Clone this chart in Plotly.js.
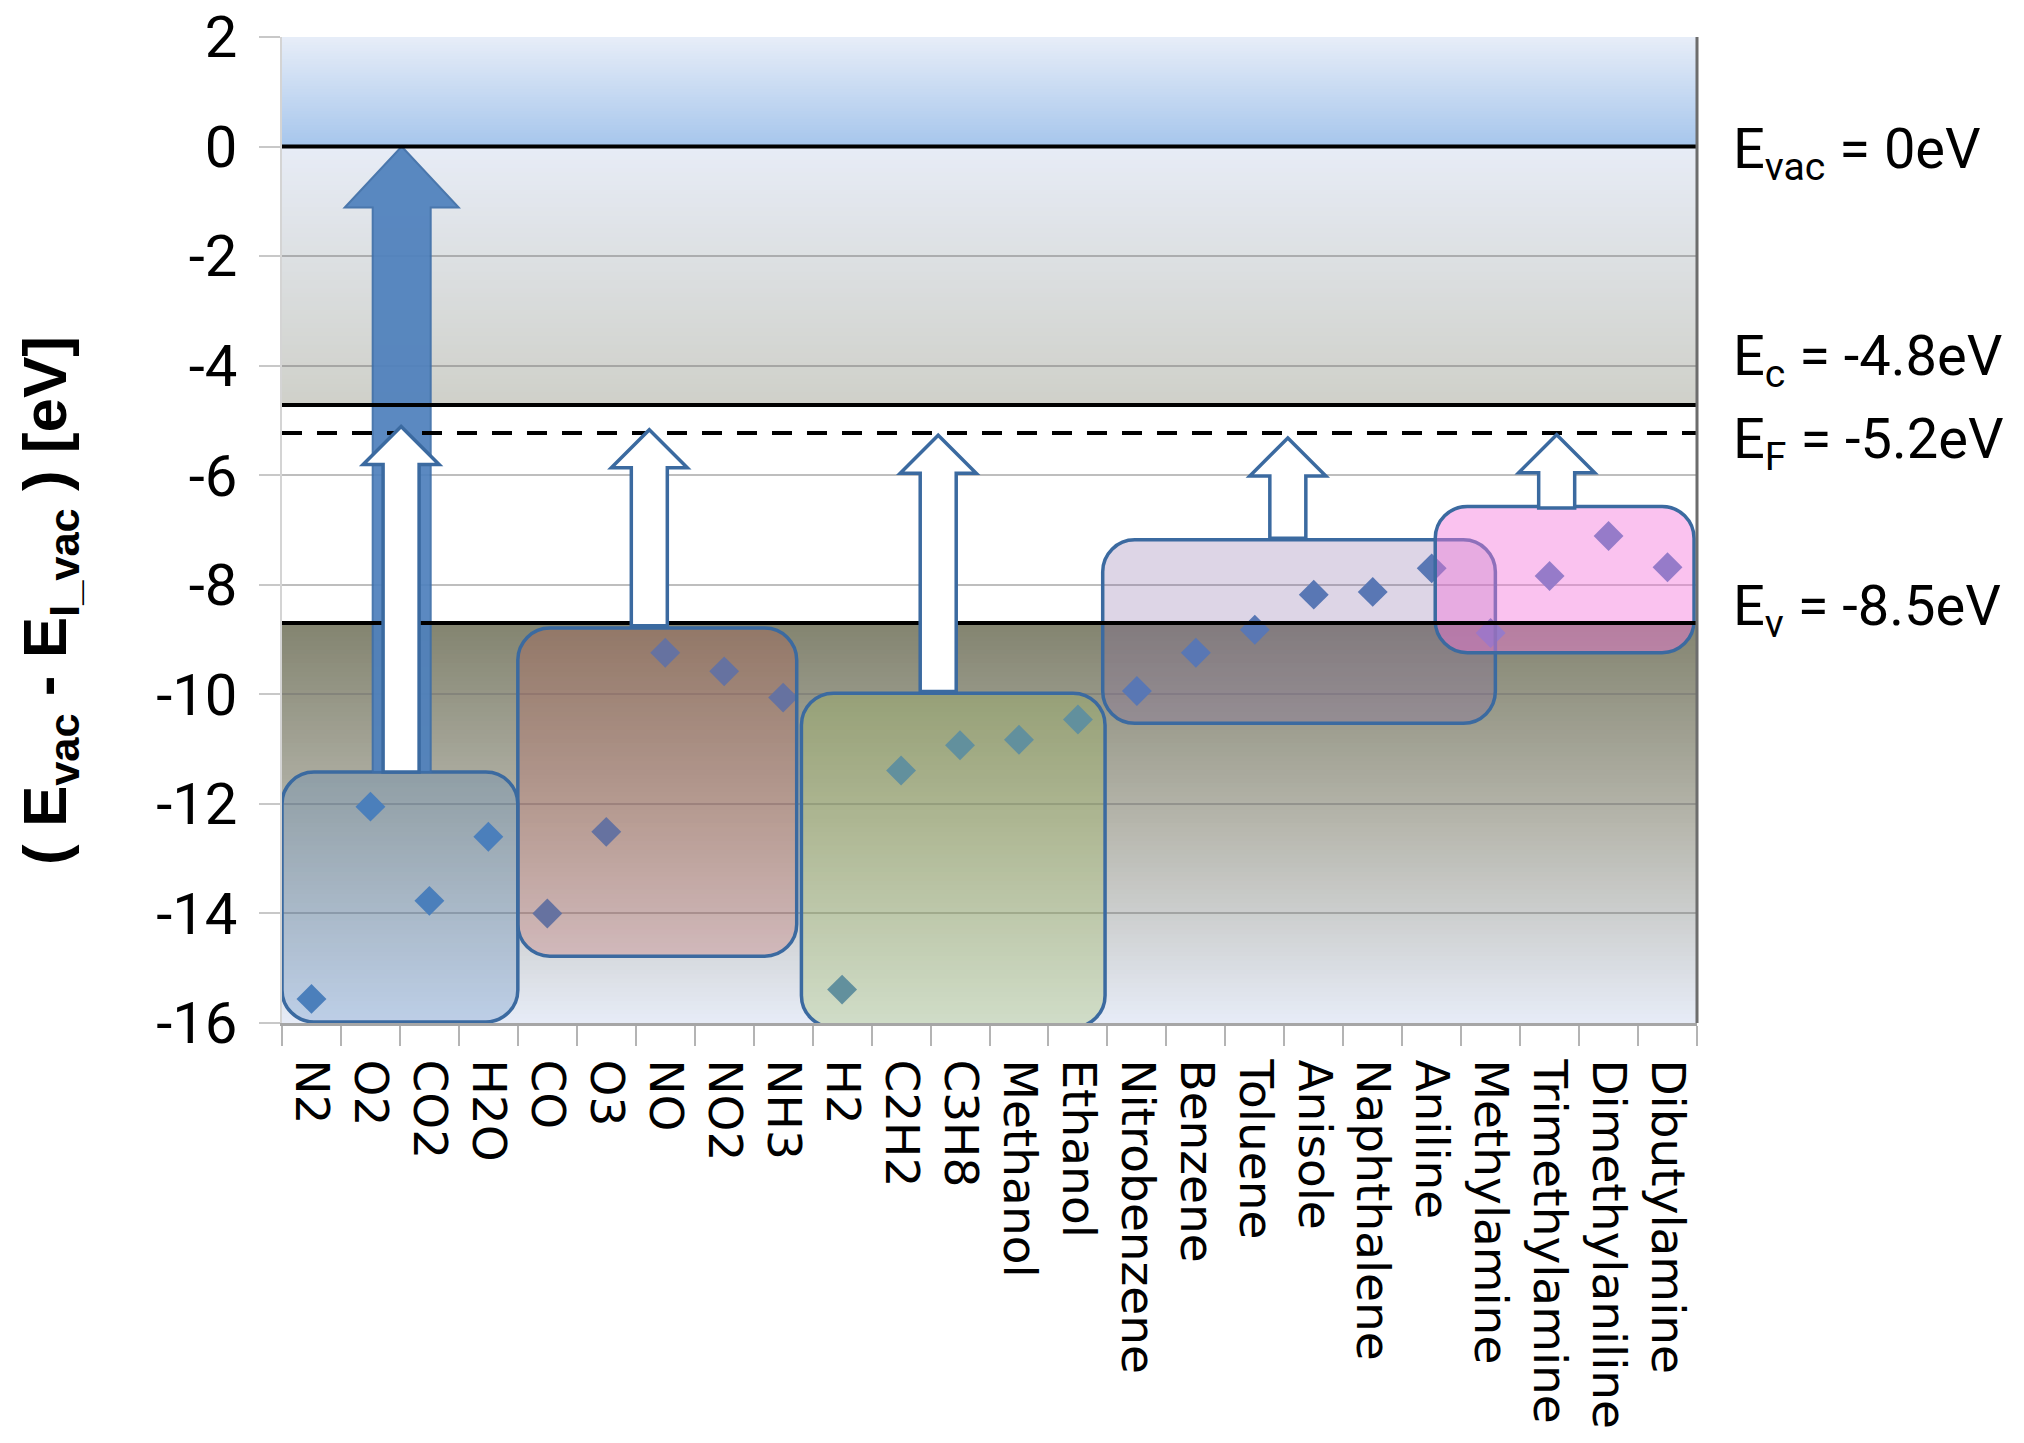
<!DOCTYPE html>
<html><head><meta charset="utf-8">
<script src="https://cdn.plot.ly/plotly-3.0.1.min.js"></script>
<style>html,body{margin:0;padding:0;background:#fff;} #chart{width:2024px;height:1443px;}</style>
</head><body><div id="chart"></div>
<script>
// ---------- data ----------
const molecules = ["N2","O2","CO2","H2O","CO","O3","NO","NO2","NH3","H2","C2H2","C3H8","Methanol","Ethanol","Nitrobenzene","Benzene","Toluene","Anisole","Naphthalene","Aniline","Methylamine","Trimethylamine","Dimethylaniline","Dibutylamine"];
const energies = [-15.56,-12.05,-13.77,-12.60,-14.00,-12.51,-9.24,-9.58,-10.06,-15.39,-11.39,-10.93,-10.83,-10.46,-9.94,-9.24,-8.82,-8.18,-8.13,-7.70,-8.88,-7.84,-7.11,-7.68];

const yTickValues = [2, 0, -2, -4, -6, -8, -10, -12, -14, -16];
const yTickLabels = ["2", "0", "-2", "-4", "-6", "-8", "-10", "-12", "-14", "-16"];

const levelLabels = ["E<sub>vac</sub> = 0eV","E<sub>c</sub> = -4.8eV","E<sub>F</sub> = -5.2eV","E<sub>v</sub> = -8.5eV"];
const levelValues = [0, -4.72, -5.23, -8.70];
const levelLabelY = [0, -3.79, -5.30, -8.35];

const groupStart  = [-0.5, 3.5, 8.31, 13.42, 19.06];
const groupEnd    = [3.5, 8.23, 13.46, 20.08, 23.45];
const groupTop    = [-11.42, -8.79, -9.98, -7.18, -6.57];
const groupBottom = [-15.98, -14.78, -16.08, -10.53, -9.24];

const arrowX    = [1.52, 5.73, 10.63, 16.56, 21.12];
const arrowTail = [-11.42, -8.75, -9.95, -7.15, -6.60];
const arrowTip  = [-5.11, -5.17, -5.27, -5.32, -5.26];

const ionArrowX = [1.53];
const ionArrowTail = [-11.42];
const ionArrowTip = [0];

// ---------- geometry / style ----------
const W = 2024, H = 1443;
const M = {l: 282, r: 327, t: 37, b: 420};
const yMin = -16, yMax = 2;
const plotW = W - M.l - M.r, plotH = H - M.t - M.b;
const pxCat = plotW / molecules.length;
const pxUnit = plotH / (yMax - yMin);

const groupFill = ["rgba(79,129,189,0.27)","rgba(192,80,77,0.24)","rgba(155,187,89,0.30)","rgba(128,100,162,0.27)","rgba(245,120,220,0.45)"];
const edge = "#3b6aa0";
const labelFont = "Roboto, 'Liberation Sans', sans-serif";

function lerp(a,b,t){return a+(b-a)*t;}
function mix(c1,c2,t){return "rgb("+Math.round(lerp(c1[0],c2[0],t))+","+Math.round(lerp(c1[1],c2[1],t))+","+Math.round(lerp(c1[2],c2[2],t))+")";}
function colorAt(stops,f){
  for(let i=0;i<stops.length-1;i++){
    if(f<=stops[i+1][0]){const t=(f-stops[i][0])/(stops[i+1][0]-stops[i][0]);return mix(stops[i][1],stops[i+1][1],t);}
  }
  const c=stops[stops.length-1][1]; return mix(c,c,0);
}
const shapes = [];
function gradientBand(y0,y1,stops,n){
  const h=(y1-y0)/n;
  for(let i=0;i<n;i++){
    const a=y0+i*h, b=Math.min(y1, a+h*1.3);
    shapes.push({type:"rect",layer:"below",xref:"paper",yref:"y",x0:0,x1:1,y0:a,y1:b,
      fillcolor:colorAt(stops,(i+0.5)/n),line:{width:0}});
  }
}
gradientBand(0, yMax, [[0,[166,197,236]],[1,[231,238,248]]], 40);
gradientBand(levelValues[1], 0, [[0,[207,208,201]],[1,[231,236,246]]], 60);
shapes.push({type:"rect",layer:"below",xref:"paper",yref:"y",x0:0,x1:1,y0:levelValues[3],y1:levelValues[1],fillcolor:"#ffffff",line:{width:0}});
gradientBand(yMin, levelValues[3], [[0,[231,236,247]],[0.5,[182,182,172]],[1,[131,132,112]]], 90);

function roundRect(x0,x1,y0,y1,r){
  const rx=r/pxCat, ry=r/pxUnit, k=0.5523;
  return "M"+(x0+rx)+","+y1+" L"+(x1-rx)+","+y1+
    " C"+(x1-rx+rx*k)+","+y1+" "+x1+","+(y1-ry+ry*k)+" "+x1+","+(y1-ry)+
    " L"+x1+","+(y0+ry)+
    " C"+x1+","+(y0+ry-ry*k)+" "+(x1-rx+rx*k)+","+y0+" "+(x1-rx)+","+y0+
    " L"+(x0+rx)+","+y0+
    " C"+(x0+rx-rx*k)+","+y0+" "+x0+","+(y0+ry-ry*k)+" "+x0+","+(y0+ry)+
    " L"+x0+","+(y1-ry)+
    " C"+x0+","+(y1-ry+ry*k)+" "+(x0+rx-rx*k)+","+y1+" "+(x0+rx)+","+y1+" Z";
}
for(let i=0;i<groupStart.length;i++){
  shapes.push({type:"path",layer:"above",xref:"x",yref:"y",
    path:roundRect(groupStart[i],groupEnd[i],groupBottom[i],groupTop[i],32),
    fillcolor:groupFill[i],line:{color:edge,width:3.5}});
}
function arrowPath(cx,tail,tip,shaftPx,headPx,headHPx){
  const hs=shaftPx/2/pxCat, hh=headPx/2/pxCat, hy=headHPx/pxUnit;
  const b=tip-hy;
  return "M"+(cx-hs)+","+tail+" L"+(cx-hs)+","+b+" L"+(cx-hh)+","+b+" L"+cx+","+tip+
         " L"+(cx+hh)+","+b+" L"+(cx+hs)+","+b+" L"+(cx+hs)+","+tail+" Z";
}
for(let i=0;i<ionArrowX.length;i++){
  shapes.push({type:"path",layer:"above",xref:"x",yref:"y",opacity:0.93,
    path:arrowPath(ionArrowX[i],ionArrowTail[i],ionArrowTip[i],58,114,61),
    fillcolor:"#4f81bd",line:{color:"#3f6fa8",width:2}});
}
const levelDash=["solid","solid","20px,15px","solid"];
for(let i=0;i<levelValues.length;i++){
  shapes.push({type:"line",layer:"above",xref:"paper",yref:"y",x0:0,x1:1,y0:levelValues[i],y1:levelValues[i],
    line:{color:"#000000",width:4,dash:levelDash[i]}});
}
for(let i=0;i<arrowX.length;i++){
  shapes.push({type:"path",layer:"above",xref:"x",yref:"y",
    path:arrowPath(arrowX[i],arrowTail[i],arrowTip[i],36,76,38),
    fillcolor:"#ffffff",line:{color:edge,width:3.5}});
}
shapes.push({type:"line",layer:"above",xref:"paper",yref:"paper",x0:1,x1:1,y0:0,y1:1,line:{color:"#6d6d6d",width:3}});

const annotations = [];
for(let i=0;i<levelLabels.length;i++){
  annotations.push({xref:"paper",yref:"y",x:1,y:levelLabelY[i],xanchor:"left",yanchor:"middle",xshift:34,yshift:-6,
    text:levelLabels[i],showarrow:false,
    font:{family:labelFont,size:56,color:"#000"}});
}
annotations.push({xref:"paper",yref:"paper",x:0,y:0.428,xshift:-233,xanchor:"center",yanchor:"middle",textangle:-90,
  text:"<b>( E<sub>vac</sub> - E<sub>I_vac</sub> ) [eV]</b>",showarrow:false,
  font:{family:"'Liberation Sans',sans-serif",size:62,color:"#000"}});

const trace = {type:"scatter",mode:"markers",x:molecules,y:energies,
  marker:{symbol:"diamond",size:23,color:"#4a7ebb",line:{width:0}},hoverinfo:"x+y"};

const layout = {
  width:W,height:H,margin:M,paper_bgcolor:"#ffffff",plot_bgcolor:"#ffffff",showlegend:false,
  xaxis:{type:"category",categoryorder:"array",categoryarray:molecules,range:[-0.5,molecules.length-0.5],
    tickson:"boundaries",ticks:"outside",ticklen:20,tickwidth:2,tickcolor:"#b4b4b4",
    showline:true,linecolor:"#a6a6a6",linewidth:3,showgrid:false,zeroline:false,
    tickangle:90,ticklabelstandoff:24,
    tickfont:{family:"'DejaVu Sans',sans-serif",size:47,color:"#000"}},
  yaxis:{range:[yMin,yMax],tickmode:"array",tickvals:yTickValues,ticktext:yTickLabels,ticks:"outside",ticklen:21,tickwidth:2,tickcolor:"#c8c8c8",
    showgrid:true,gridcolor:"rgba(110,110,110,0.45)",gridwidth:2,zeroline:false,
    showline:true,linecolor:"#d4d4d4",linewidth:2,ticklabelstandoff:10,
    tickfont:{family:labelFont,size:58,color:"#000"}},
  shapes:shapes,annotations:annotations
};
Plotly.newPlot("chart",[trace],layout,{staticPlot:true});
</script>
</body></html>
